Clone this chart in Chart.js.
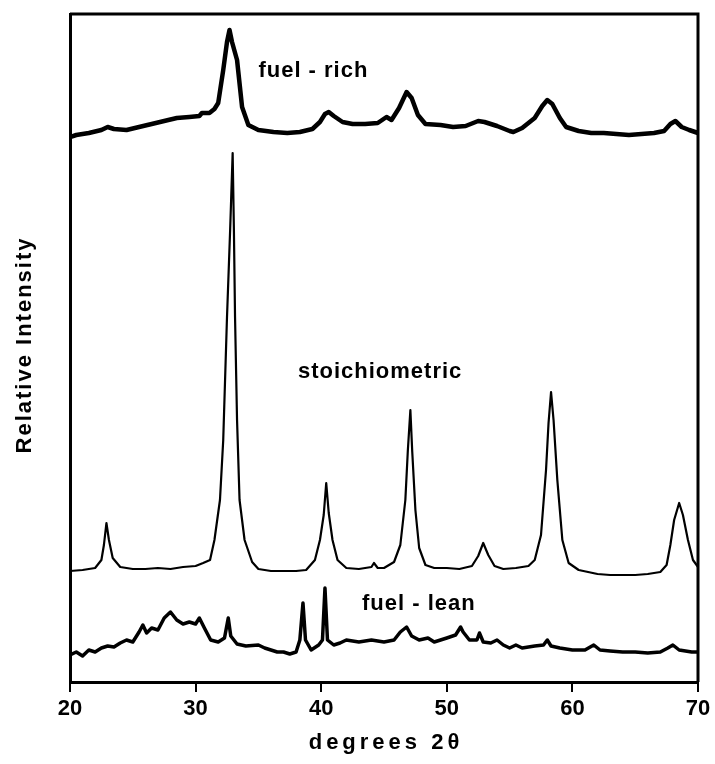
<!DOCTYPE html>
<html>
<head>
<meta charset="utf-8">
<script src="https://cdn.jsdelivr.net/npm/chart.js@4/dist/chart.umd.min.js"></script>
<style>
  body { margin: 0; background: #fff; }
  canvas { display: block; }
</style>
</head>
<body>
<canvas id="xrdChart" width="715" height="764"></canvas>
<script>
// diffraction angle (degrees 2theta) and relative intensity
const xTicks = [20, 30, 40, 50, 60, 70];

const richAngle = [20.0, 20.5, 21.5, 22.5, 23.0, 23.5, 24.5, 25.5, 26.5, 27.5, 28.5, 29.5, 30.3, 30.5, 31.1, 31.5, 31.8, 32.2, 32.5, 32.7, 32.9, 33.3, 33.7, 34.2, 35.0, 36.2, 37.3, 38.3, 39.3, 39.9, 40.3, 40.6, 41.0, 41.7, 42.5, 43.5, 44.5, 45.2, 45.6, 46.2, 46.8, 47.2, 47.7, 48.3, 49.5, 50.5, 51.5, 52.5, 53.0, 54.0, 55.0, 55.3, 56.0, 57.0, 57.6, 58.0, 58.4, 59.0, 59.5, 60.5, 61.5, 62.5, 63.5, 64.5, 65.5, 66.5, 67.3, 67.8, 68.2, 68.7, 69.3, 70.0];
const richCounts = [545, 547, 549, 552, 555, 553, 552, 555, 558, 561, 564, 565, 566, 569, 569, 573, 579, 612, 640, 652, 640, 622, 575, 557, 552, 550, 549, 550, 553, 560, 568, 570, 566, 560, 558, 558, 559, 565, 562, 574, 590, 584, 567, 558, 557, 555, 556, 561, 560, 556, 551, 550, 554, 564, 576, 582, 578, 564, 555, 551, 549, 549, 548, 547, 548, 549, 551, 558, 561, 555, 552, 549];

const stoichAngle = [20.0, 21.0, 22.0, 22.5, 22.7, 22.9, 23.1, 23.4, 24.0, 25, 26, 27, 28, 29, 30, 30.6, 31.15, 31.5, 31.94, 32.2, 32.5, 32.75, 32.95, 33.05, 33.14, 33.3, 33.5, 33.9, 34.5, 35, 36, 37, 38, 38.8, 39.5, 39.9, 40.2, 40.4, 40.6, 40.9, 41.3, 42, 43, 44.0, 44.2, 44.5, 45, 45.8, 46.3, 46.7, 46.9, 47.1, 47.25, 47.5, 47.8, 48.3, 49, 50, 51, 52, 52.5, 52.9, 53.3, 53.8, 54.5, 55.5, 56.5, 57.0, 57.5, 57.9, 58.1, 58.3, 58.5, 58.8, 59.2, 59.7, 60.5, 62, 63, 64, 65, 66, 67, 67.5, 67.8, 68.1, 68.5, 68.8, 69.2, 69.6, 70];
const stoichCounts = [111, 112, 114, 122, 137, 159, 142, 124, 115, 113, 113, 114, 113, 115, 116, 119, 122, 142, 182, 242, 365, 452, 529, 452, 365, 262, 182, 142, 120, 113, 111, 111, 111, 112, 122, 142, 167, 199, 169, 142, 122, 114, 113, 115, 119, 114, 114, 120, 137, 182, 232, 272, 230, 172, 134, 117, 114, 114, 113, 116, 126, 139, 127, 116, 113, 114, 116, 122, 147, 212, 259, 290, 262, 202, 142, 119, 112, 108, 107, 107, 107, 108, 110, 117, 137, 162, 179, 167, 142, 122, 115];

const leanAngle = [20, 20.5, 21, 21.5, 22, 22.5, 23, 23.5, 24, 24.5, 25, 25.5, 25.8, 26.1, 26.5, 27, 27.5, 28.0, 28.5, 29, 29.5, 30.0, 30.3, 30.7, 31.2, 31.8, 32.3, 32.6, 32.8, 33.3, 34, 35, 35.5, 36, 36.5, 37, 37.5, 38.0, 38.3, 38.55, 38.75, 39.2, 39.8, 40.1, 40.3, 40.5, 41, 41.5, 42, 43, 44, 45, 45.8, 46.3, 46.8, 47.2, 47.8, 48.5, 49, 49.5, 50, 50.7, 51.1, 51.3, 51.8, 52.4, 52.6, 52.9, 53.5, 54, 54.5, 55, 55.5, 56, 57, 57.7, 58.0, 58.3, 59, 60, 61, 61.7, 62.2, 63, 64, 65, 66, 67, 67.6, 68.0, 68.5, 69, 69.5, 70];
const leanCounts = [27, 30, 26, 32, 30, 34, 36, 35, 39, 42, 40, 50, 57, 49, 54, 52, 64, 70, 62, 58, 60, 58, 64, 54, 42, 40, 44, 64, 46, 38, 36, 37, 34, 32, 30, 30, 28, 30, 42, 79, 42, 32, 37, 42, 94, 42, 37, 39, 42, 40, 42, 40, 42, 50, 55, 46, 42, 44, 40, 42, 44, 47, 55, 50, 42, 42, 49, 40, 39, 42, 37, 34, 37, 34, 36, 37, 42, 36, 34, 32, 32, 37, 32, 31, 30, 30, 29, 30, 34, 37, 32, 31, 30, 30];

// trace labels: [text, left angle, baseline intensity]
const traceLabels = [
  ["fuel - rich", 35.0, 605],
  ["stoichiometric", 38.15, 304],
  ["fuel - lean", 43.25, 72]
];

function toPoints(xs, ys) {
  return xs.map((x, i) => ({ x: x, y: ys[i] }))
}

const framePlugin = {
  id: 'frame',
  afterDraw(chart) {
    const ctx = chart.ctx
    const a = chart.chartArea
    const xs = chart.scales.x
    const ys = chart.scales.y
    ctx.save()
    ctx.strokeStyle = '#000'
    ctx.lineWidth = 3
    ctx.beginPath()
    ctx.moveTo(a.left, a.top)
    ctx.lineTo(a.right, a.top)
    ctx.lineTo(a.right, a.bottom)
    ctx.stroke()

    ctx.fillStyle = '#000'
    ctx.textBaseline = 'alphabetic'
    ctx.textAlign = 'left'
    ctx.font = 'bold 22px "Liberation Sans", Arial, sans-serif'
    ctx.letterSpacing = '1px'
    traceLabels.forEach(l => {
      ctx.fillText(l[0], xs.getPixelForValue(l[1]), ys.getPixelForValue(l[2]))
    })

    // axis titles
    ctx.textAlign = 'center'
    ctx.textBaseline = 'middle'
    ctx.letterSpacing = '4px'
    ctx.fillText('degrees 2θ', (a.left + a.right) / 2 + 2, 743)
    ctx.letterSpacing = '2px'
    ctx.translate(25, (a.top + a.bottom) / 2 - 3)
    ctx.rotate(-Math.PI / 2)
    ctx.fillText('Relative Intensity', 0, 0)
    ctx.restore()
  }
}

const ctx = document.getElementById('xrdChart').getContext('2d')
const xrdChart = new Chart(ctx, {
  type: 'line',
  data: {
    datasets: [
      { label: 'fuel-rich', data: toPoints(richAngle, richCounts), borderColor: '#000', borderWidth: 4.5 },
      { label: 'stoichiometric', data: toPoints(stoichAngle, stoichCounts), borderColor: '#000', borderWidth: 2.2 },
      { label: 'fuel-lean', data: toPoints(leanAngle, leanCounts), borderColor: '#000', borderWidth: 3.5 }
    ]
  },
  options: {
    responsive: false,
    animation: false,
    layout: { padding: { top: 14, right: 17, left: 0, bottom: 0 } },
    elements: {
      point: { radius: 0 },
      line: { tension: 0, borderJoinStyle: 'round', borderCapStyle: 'round' }
    },
    plugins: {
      legend: { display: false },
      tooltip: { enabled: false }
    },
    scales: {
      x: {
        type: 'linear',
        min: 20,
        max: 70,
        afterFit: (scale) => { scale.height = 82 },
        border: { display: true, color: '#000', width: 3 },
        grid: { drawOnChartArea: false, drawTicks: true, tickLength: 10, color: '#000', lineWidth: 2 },
        ticks: {
          stepSize: 10,
          autoSkip: false,
          maxRotation: 0,
          padding: 4,
          color: '#000',
          font: { family: '"Liberation Sans", Arial, sans-serif', size: 22, weight: 'bold' }
        },
        afterBuildTicks: (scale) => { scale.ticks = xTicks.map(v => ({ value: v })) }
      },
      y: {
        min: 0,
        max: 668,
        afterFit: (scale) => { scale.width = 70 },
        border: { display: true, color: '#000', width: 3 },
        grid: { display: false },
        ticks: { display: false }
      }
    }
  },
  plugins: [framePlugin]
})
</script>
</body>
</html>
